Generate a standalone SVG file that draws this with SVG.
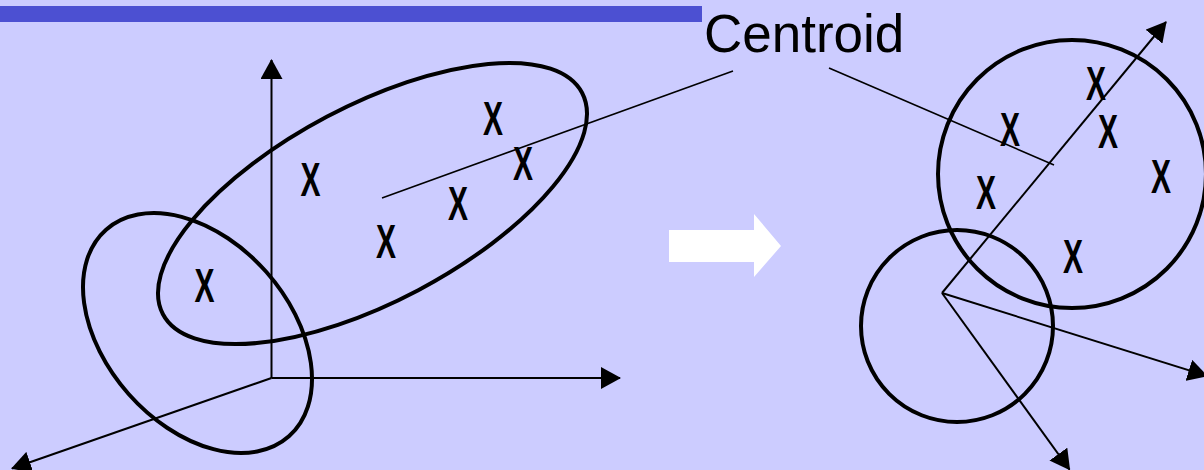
<svg xmlns="http://www.w3.org/2000/svg" width="1204" height="470" viewBox="0 0 1204 470">
<style>
.bg{fill:#CCCCFF}
.bar{fill:#4C50D2}
.ell{fill:none;stroke:#000;stroke-width:4}
.axis{fill:none;stroke:#000;stroke-width:2}
.thin{fill:none;stroke:#000;stroke-width:1.6}
.x{font-family:"Liberation Sans",Arial,sans-serif;font-size:49px;font-weight:bold;fill:#000;text-anchor:middle}
.lbl{font-family:"Liberation Sans",Arial,sans-serif;font-size:53px;fill:#000}
</style>
<defs>
<marker id="ah" viewBox="0 0 20 22" refX="19" refY="11" markerWidth="20" markerHeight="22" markerUnits="userSpaceOnUse" orient="auto">
<path d="M0,0 L20,11 L0,22 Z" fill="#000"/>
</marker>
</defs>
<rect class="bg" x="0" y="0" width="1204" height="470"/>
<rect class="bar" x="0" y="6" width="702" height="16"/>

<g id="left-axes">
<line class="axis" x1="271.5" y1="378" x2="271.5" y2="60" marker-end="url(#ah)"/>
<line class="axis" x1="271.5" y1="378" x2="620" y2="378" marker-end="url(#ah)"/>
<line class="axis" x1="271.5" y1="378" x2="12" y2="468.5" marker-end="url(#ah)"/>
</g>

<g id="cluster-small-left">
<ellipse class="ell" cx="197.5" cy="333" rx="138" ry="92" transform="rotate(48.5 197.5 333)"/>
<text class="x" x="204.5" y="302" textLength="20" lengthAdjust="spacingAndGlyphs">X</text>
</g>

<g id="cluster-large-left">
<ellipse class="ell" cx="372.5" cy="203.5" rx="237" ry="98" transform="rotate(-27.85 372.5 203.5)"/>
<text class="x" x="310.5" y="196" textLength="20" lengthAdjust="spacingAndGlyphs">X</text>
<text class="x" x="493" y="135" textLength="20" lengthAdjust="spacingAndGlyphs">X</text>
<text class="x" x="523" y="180" textLength="20" lengthAdjust="spacingAndGlyphs">X</text>
<text class="x" x="458" y="220" textLength="20" lengthAdjust="spacingAndGlyphs">X</text>
<text class="x" x="386" y="258" textLength="20" lengthAdjust="spacingAndGlyphs">X</text>
</g>

<g id="transform-arrow">
<path d="M669,230 L754,230 L754,214 L781,246 L754,277 L754,262 L669,262 Z" fill="#FFFFFF"/>
</g>

<g id="centroid-label">
<text class="lbl" x="704" y="52">Centroid</text>
</g>

<g id="right-axes">
<line class="axis" x1="942" y1="293" x2="1166" y2="22" marker-end="url(#ah)"/>
<line class="axis" x1="942" y1="293" x2="1207" y2="376" marker-end="url(#ah)"/>
<line class="axis" x1="942" y1="293" x2="1069.5" y2="469.5" marker-end="url(#ah)"/>
</g>

<g id="cluster-small-right">
<circle class="ell" cx="957" cy="326" r="96"/>
</g>

<g id="cluster-large-right">
<circle class="ell" cx="1072" cy="174" r="134"/>
<text class="x" x="1096" y="100" textLength="20" lengthAdjust="spacingAndGlyphs">X</text>
<text class="x" x="1010" y="146" textLength="20" lengthAdjust="spacingAndGlyphs">X</text>
<text class="x" x="1108" y="148" textLength="20" lengthAdjust="spacingAndGlyphs">X</text>
<text class="x" x="1161" y="193" textLength="20" lengthAdjust="spacingAndGlyphs">X</text>
<text class="x" x="986" y="209" textLength="20" lengthAdjust="spacingAndGlyphs">X</text>
<text class="x" x="1073" y="273" textLength="20" lengthAdjust="spacingAndGlyphs">X</text>
</g>

<g id="connectors">
<line class="thin" x1="733" y1="71" x2="382" y2="198"/>
<line class="thin" x1="829" y1="68" x2="1054" y2="165"/>
</g>
</svg>
